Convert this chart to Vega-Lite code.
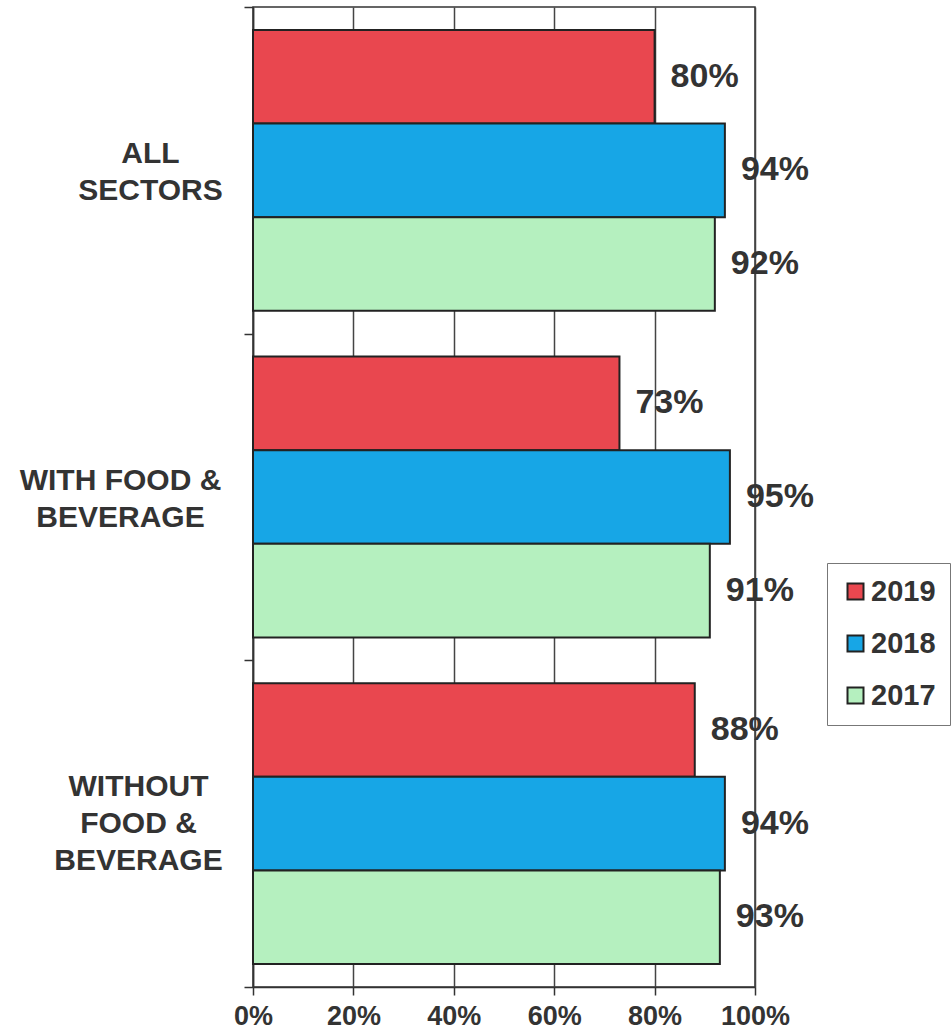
{
  "$schema": "https://vega.github.io/schema/vega-lite/v6.json",
  "width": 502,
  "height": 980,
  "autosize": "none",
  "padding": {"left": 253, "top": 7, "right": 196, "bottom": 46},
  "background": "white",
  "config": {
    "font": "Liberation Sans",
    "view": {"stroke": "#333", "strokeWidth": 1.5},
    "axis": {"labelFont": "Liberation Sans", "labelFontWeight": "bold", "labelColor": "#333", "domainColor": "#333", "tickColor": "#333", "domainWidth": 1.5, "tickWidth": 1.5}
  },
  "data": {
    "values": [
      {"sector": "ALL SECTORS", "year": "2019", "value": 0.80},
      {"sector": "ALL SECTORS", "year": "2018", "value": 0.94},
      {"sector": "ALL SECTORS", "year": "2017", "value": 0.92},
      {"sector": "WITH FOOD & BEVERAGE", "year": "2019", "value": 0.73},
      {"sector": "WITH FOOD & BEVERAGE", "year": "2018", "value": 0.95},
      {"sector": "WITH FOOD & BEVERAGE", "year": "2017", "value": 0.91},
      {"sector": "WITHOUT FOOD & BEVERAGE", "year": "2019", "value": 0.88},
      {"sector": "WITHOUT FOOD & BEVERAGE", "year": "2018", "value": 0.94},
      {"sector": "WITHOUT FOOD & BEVERAGE", "year": "2017", "value": 0.93}
    ]
  },
  "encoding": {
    "y": {
      "field": "sector",
      "type": "nominal",
      "sort": ["ALL SECTORS", "WITH FOOD & BEVERAGE", "WITHOUT FOOD & BEVERAGE"],
      "scale": {"paddingInner": 0, "paddingOuter": 0},
      "axis": {
        "title": null,
        "tickBand": "extent",
        "tickSize": 9,
        "grid": false,
        "labelFontSize": 30,
        "labelLineHeight": 37,
        "labelLimit": 400,
        "labelAlign": "center",
        "labelBaseline": "middle",
        "labelPadding": {"condition": [{"test": "datum.value == 'ALL SECTORS'", "value": 94}, {"test": "datum.value == 'WITH FOOD & BEVERAGE'", "value": 124}], "value": 106},
        "labelOffset": {"condition": [{"test": "datum.value == 'WITHOUT FOOD & BEVERAGE'", "value": -37}], "value": -17},
        "labelExpr": "datum.value == 'ALL SECTORS' ? ['ALL', 'SECTORS'] : datum.value == 'WITH FOOD & BEVERAGE' ? ['WITH FOOD &', 'BEVERAGE'] : datum.value == 'WITHOUT FOOD & BEVERAGE' ? ['WITHOUT', 'FOOD &', 'BEVERAGE'] : ''"
      }
    },
    "yOffset": {"field": "year", "type": "nominal", "sort": ["2019", "2018", "2017"], "scale": {"paddingInner": 0, "paddingOuter": 0.245}},
    "x": {
      "field": "value",
      "type": "quantitative",
      "scale": {"domain": [0, 1]},
      "axis": {
        "title": null,
        "format": ".0%",
        "values": [0, 0.2, 0.4, 0.6, 0.8, 1],
        "grid": true,
        "gridColor": "#444",
        "gridWidth": 1.5,
        "gridOpacity": 1,
        "tickSize": 8,
        "labelFontSize": 27,
        "labelFlush": false,
        "labelPadding": 8
      }
    }
  },
  "layer": [
    {
      "mark": {"type": "bar", "stroke": "#222", "strokeWidth": 2},
      "encoding": {
        "color": {
          "field": "year",
          "type": "nominal",
          "scale": {"domain": ["2019", "2018", "2017"], "range": ["#e9474f", "#17a6e6", "#b5f0bf"]},
          "legend": {
            "title": null,
            "orient": "none",
            "legendX": 574,
            "legendY": 556,
            "symbolType": "square",
            "symbolSize": 256,
            "symbolStrokeColor": "#222",
            "symbolStrokeWidth": 2,
            "labelFontSize": 29,
            "labelFontWeight": "bold",
            "labelColor": "#333",
            "labelFont": "Liberation Sans",
            "rowPadding": 22,
            "padding": 14,
            "strokeColor": "#777",
            "labelOffset": 1
          }
        }
      }
    },
    {
      "mark": {"type": "text", "align": "left", "baseline": "middle", "dx": 16, "fontSize": 34, "fontWeight": "bold", "color": "#333", "font": "Liberation Sans"},
      "encoding": {
        "text": {"field": "value", "type": "quantitative", "format": ".0%"}
      }
    }
  ]
}
